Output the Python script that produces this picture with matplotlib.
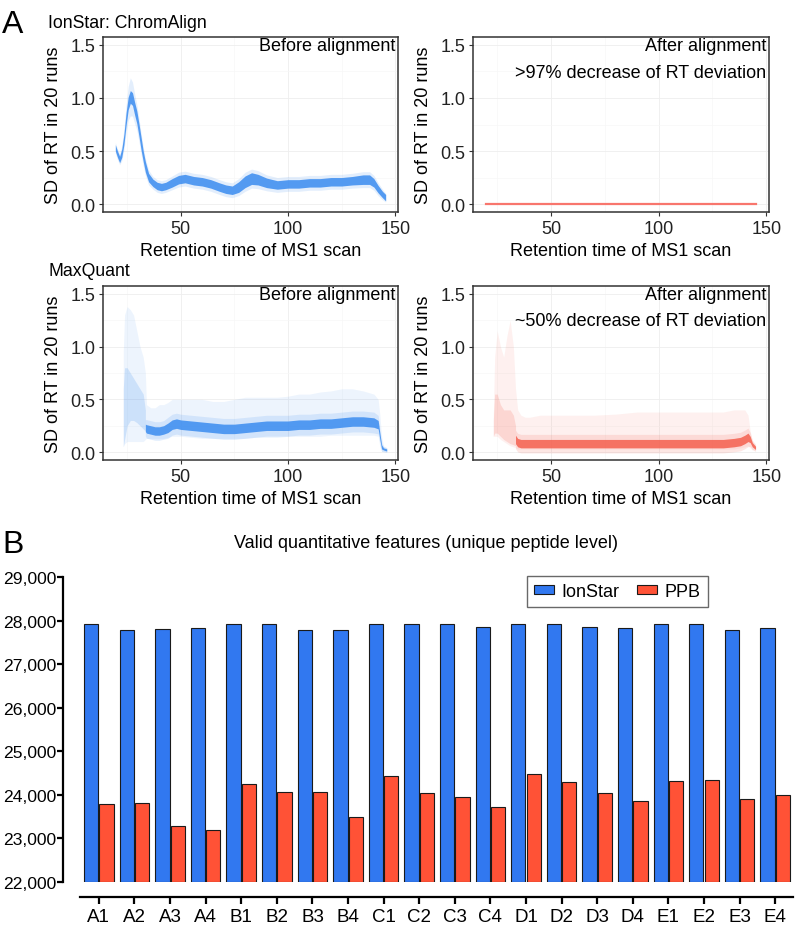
import numpy as np
import matplotlib
matplotlib.use('Agg')
import matplotlib.pyplot as plt
from matplotlib.ticker import MultipleLocator, FuncFormatter

plt.rcParams['font.family'] = ['Liberation Sans', 'DejaVu Sans']
nan = np.nan

# ── Panel A: IonStar / ChromAlign, before alignment (dense band + spread) ──
is_rt = [19.5, 20.5, 21.5, 22.5, 23.5, 24.5, 25.5, 26.5, 27.5, 28.5,
         29.5, 30.5, 31.5, 32.5, 33.5, 35, 37, 39, 41, 43,
         46, 49, 52, 56, 60, 64, 68, 71, 74, 77,
         80, 83, 86, 90, 95, 100, 105, 110, 115, 120,
         125, 130, 135, 138, 140, 142, 144, 145.5]
is_centre = [0.53, 0.47, 0.42, 0.48, 0.61, 0.80, 0.95, 1.01, 0.99, 0.90,
             0.82, 0.70, 0.57, 0.45, 0.35, 0.25, 0.20, 0.17, 0.16, 0.17,
             0.20, 0.23, 0.24, 0.22, 0.21, 0.19, 0.16, 0.14, 0.13, 0.16,
             0.21, 0.24, 0.23, 0.20, 0.18, 0.19, 0.19, 0.20, 0.20, 0.21,
             0.21, 0.22, 0.23, 0.23, 0.20, 0.14, 0.09, 0.06]
is_half = [0.03, 0.03, 0.03, 0.04, 0.05, 0.06, 0.06, 0.06, 0.06, 0.06,
           0.06, 0.06, 0.06, 0.05, 0.05, 0.04, 0.035, 0.035, 0.035, 0.035,
           0.04, 0.04, 0.04, 0.04, 0.04, 0.04, 0.04, 0.04, 0.04, 0.05,
           0.055, 0.055, 0.05, 0.045, 0.04, 0.04, 0.04, 0.04, 0.04, 0.04,
           0.04, 0.04, 0.045, 0.045, 0.04, 0.035, 0.03, 0.03]
is_spread = [0.05, 0.05, 0.05, 0.07, 0.10, 0.13, 0.16, 0.18, 0.16, 0.14,
             0.12, 0.11, 0.10, 0.09, 0.08, 0.07, 0.06, 0.06, 0.06, 0.06,
             0.065, 0.07, 0.07, 0.07, 0.07, 0.07, 0.07, 0.07, 0.07, 0.08,
             0.09, 0.09, 0.085, 0.075, 0.07, 0.07, 0.07, 0.07, 0.07, 0.07,
             0.07, 0.07, 0.075, 0.075, 0.07, 0.06, 0.05, 0.04]

# after alignment: all SDs ~0
isa_rt = [20, 145]
isa_sd = [0.0, 0.0]

# ── Panel A: MaxQuant, before alignment ──
mq_rt = [23.2, 23.8, 25, 26.5, 28, 29.5, 31, 32.5, 33.5, 34,
         36, 38, 40, 42, 44, 46, 48, 50, 55, 60,
         65, 70, 75, 80, 85, 90, 95, 100, 105, 110,
         115, 120, 125, 130, 135, 140, 142, 142.8, 143.6, 144.5, 146]
mq_centre = [nan, nan, nan, nan, nan, nan, nan, nan, 0.23, 0.22,
             0.21, 0.20, 0.20, 0.21, 0.23, 0.26, 0.27, 0.26, 0.25, 0.24,
             0.23, 0.22, 0.22, 0.23, 0.24, 0.25, 0.25, 0.25, 0.26, 0.26,
             0.27, 0.27, 0.28, 0.29, 0.29, 0.28, 0.26, 0.15, 0.05, 0.03, 0.02]
mq_half = [nan, nan, nan, nan, nan, nan, nan, nan, 0.035, 0.04,
           0.04, 0.04, 0.04, 0.04, 0.045, 0.045, 0.045, 0.045, 0.045, 0.045,
           0.045, 0.045, 0.045, 0.045, 0.045, 0.045, 0.045, 0.045, 0.045, 0.045,
           0.045, 0.045, 0.045, 0.045, 0.045, 0.045, 0.04, 0.03, 0.02, 0.01, 0.01]
mq_lo = [0.05, 0.08, 0.10, 0.10, 0.10, 0.10, 0.10, 0.10, 0.12, 0.13,
         0.13, 0.13, 0.13, 0.13, 0.14, 0.15, 0.15, 0.15, 0.14, 0.13,
         0.13, 0.13, 0.13, 0.13, 0.14, 0.14, 0.14, 0.15, 0.15, 0.15,
         0.15, 0.16, 0.16, 0.16, 0.16, 0.16, 0.15, 0.05, 0.01, 0.0, 0.0]
mq_hi = [0.95, 1.30, 1.38, 1.35, 1.30, 1.15, 1.00, 0.90, 0.75, 0.45,
         0.42, 0.42, 0.45, 0.45, 0.47, 0.50, 0.50, 0.50, 0.50, 0.50,
         0.48, 0.48, 0.50, 0.52, 0.52, 0.52, 0.52, 0.53, 0.55, 0.55,
         0.57, 0.58, 0.60, 0.60, 0.58, 0.55, 0.50, 0.35, 0.15, 0.06, 0.04]
# denser lower part of the early-eluting spike
mq_core_lo = [0.05, 0.12, 0.25, 0.30, 0.30, 0.28, 0.25, 0.22, 0.20, nan,
              nan, nan, nan, nan, nan, nan, nan, nan, nan, nan,
              nan, nan, nan, nan, nan, nan, nan, nan, nan, nan,
              nan, nan, nan, nan, nan, nan, nan, nan, nan, nan, nan]
mq_core_hi = [0.60, 0.80, 0.80, 0.75, 0.70, 0.65, 0.60, 0.55, 0.40, nan,
              nan, nan, nan, nan, nan, nan, nan, nan, nan, nan,
              nan, nan, nan, nan, nan, nan, nan, nan, nan, nan,
              nan, nan, nan, nan, nan, nan, nan, nan, nan, nan, nan]

# ── Panel A: MaxQuant, after alignment ──
mqa_rt = [23.2, 23.8, 25, 26.5, 28, 29.5, 31, 32.5, 33.5, 34.5,
          36, 38, 40, 45, 50, 55, 60, 70, 80, 90,
          100, 110, 120, 130, 135, 138, 140, 141.5, 142.5, 143.5, 145]
mqa_centre = [nan, nan, nan, nan, nan, nan, nan, nan, 0.12, 0.09,
              0.08, 0.08, 0.08, 0.08, 0.08, 0.08, 0.08, 0.08, 0.08, 0.08,
              0.08, 0.08, 0.08, 0.08, 0.09, 0.10, 0.12, 0.14, 0.12, 0.07, 0.04]
mqa_half = [nan, nan, nan, nan, nan, nan, nan, nan, 0.04, 0.04,
            0.04, 0.04, 0.04, 0.04, 0.04, 0.04, 0.04, 0.04, 0.04, 0.04,
            0.04, 0.04, 0.04, 0.04, 0.04, 0.04, 0.04, 0.04, 0.03, 0.02, 0.015]
mqa_lo = [0.15, 0.15, 0.15, 0.12, 0.10, 0.08, 0.06, 0.05, 0.04, 0.03,
          0.03, 0.03, 0.03, 0.03, 0.03, 0.03, 0.03, 0.03, 0.03, 0.03,
          0.03, 0.03, 0.03, 0.03, 0.03, 0.04, 0.05, 0.06, 0.04, 0.02, 0.02]
mqa_hi = [0.35, 0.90, 1.15, 1.00, 0.90, 1.10, 1.25, 1.00, 0.60, 0.40,
          0.35, 0.33, 0.33, 0.35, 0.35, 0.35, 0.35, 0.35, 0.36, 0.38,
          0.38, 0.38, 0.38, 0.38, 0.40, 0.40, 0.40, 0.35, 0.20, 0.10, 0.06]
mqa_core_lo = [0.15, 0.18, 0.18, 0.15, 0.12, 0.10, 0.08, 0.07, 0.06, nan,
               nan, nan, nan, nan, nan, nan, nan, nan, nan, nan,
               nan, nan, nan, nan, nan, nan, nan, nan, nan, nan, nan]
mqa_core_hi = [0.30, 0.55, 0.55, 0.45, 0.40, 0.40, 0.40, 0.35, 0.25, nan,
               nan, nan, nan, nan, nan, nan, nan, nan, nan, nan,
               nan, nan, nan, nan, nan, nan, nan, nan, nan, nan, nan]

# ── Panel B: valid quantitative features ──
samples = ['A1', 'A2', 'A3', 'A4', 'B1', 'B2', 'B3', 'B4', 'C1', 'C2',
           'C3', 'C4', 'D1', 'D2', 'D3', 'D4', 'E1', 'E2', 'E3', 'E4']
ionstar = [27930, 27775, 27810, 27835, 27930, 27930, 27775, 27775, 27930, 27930,
           27930, 27855, 27930, 27930, 27855, 27835, 27930, 27930, 27795, 27835]
ppb = [23790, 23805, 23280, 23200, 24255, 24055, 24055, 23490, 24425, 24040,
       23940, 23725, 24475, 24285, 24035, 23870, 24320, 24340, 23895, 23995]

BLUE_PT = '#3a8cf0'
RED_PT = '#f4604f'
RED_LINE = '#f8766d'
BLUE_BAR = '#3178f0'
RED_BAR = '#ff5236'
FS = 13

W, H = 796, 929
fig = plt.figure(figsize=(W / 100, H / 100), dpi=100)


def px_axes(x0, y0, x1, y1):
    return fig.add_axes([x0 / W, 1 - y1 / H, (x1 - x0) / W, (y1 - y0) / H])


def style_rt(ax):
    ax.set_xlim(13.75, 151.25)
    ax.set_ylim(-0.075, 1.575)
    ax.xaxis.set_major_locator(MultipleLocator(50))
    ax.xaxis.set_minor_locator(MultipleLocator(25))
    ax.yaxis.set_major_locator(MultipleLocator(0.5))
    ax.yaxis.set_minor_locator(MultipleLocator(0.25))
    ax.yaxis.set_major_formatter(FuncFormatter(lambda v, p: f'{v:.1f}'))
    ax.grid(True, which='major', color='#eeeeee', lw=0.6)
    ax.grid(True, which='minor', color='#f7f7f7', lw=0.5)
    ax.set_axisbelow(True)
    for s in ax.spines.values():
        s.set_color('#333333'); s.set_linewidth(1.1)
    ax.tick_params(which='major', length=3, width=0.8, color='#333333',
                   labelsize=FS, labelcolor='#222222', pad=2.5)
    ax.tick_params(which='minor', length=0)
    ax.set_xlabel('Retention time of MS1 scan', fontsize=FS, labelpad=4)
    ax.set_ylabel('SD of RT in 20 runs', fontsize=FS)
    ax.yaxis.set_label_coords(-0.14, 0.5)


def cloud(ax, rt, lo, hi, centre, half, color, core_lo=None, core_hi=None):
    rt = np.array(rt); c = np.array(centre); h = np.array(half)
    ax.fill_between(rt, lo, hi, color=color, alpha=0.09, lw=0)
    if core_lo is not None:
        ax.fill_between(rt, core_lo, core_hi, color=color, alpha=0.18, lw=0)
    ax.fill_between(rt, c - 2.2 * h, c + 2.2 * h, color=color, alpha=0.15, lw=0)
    ax.fill_between(rt, c - h, c + h, color=color, alpha=0.85, lw=0)


# top-left
ax1 = px_axes(103, 38, 398, 213)
style_rt(ax1)
c = np.array(is_centre)
ax1.fill_between(is_rt, c - np.array(is_spread), c + np.array(is_spread),
                 color=BLUE_PT, alpha=0.14, lw=0)
ax1.fill_between(is_rt, c - np.array(is_half), c + np.array(is_half),
                 color=BLUE_PT, alpha=0.85, lw=0)
ax1.text(0.99, 0.95, 'Before alignment', transform=ax1.transAxes,
         ha='right', va='center', fontsize=FS)

# top-right
ax2 = px_axes(473, 38, 769, 213)
style_rt(ax2)
ax2.plot(isa_rt, isa_sd, color=RED_LINE, lw=1.6)
ax2.text(0.99, 0.95, 'After alignment', transform=ax2.transAxes,
         ha='right', va='center', fontsize=FS)
ax2.text(0.99, 0.80, '>97% decrease of RT deviation', transform=ax2.transAxes,
         ha='right', va='center', fontsize=FS)

# bottom-left
ax3 = px_axes(103, 287, 398, 461)
style_rt(ax3)
cloud(ax3, mq_rt, mq_lo, mq_hi, mq_centre, mq_half, BLUE_PT, mq_core_lo, mq_core_hi)
ax3.text(0.99, 0.95, 'Before alignment', transform=ax3.transAxes,
         ha='right', va='center', fontsize=FS)

# bottom-right
ax4 = px_axes(473, 287, 769, 461)
style_rt(ax4)
cloud(ax4, mqa_rt, mqa_lo, mqa_hi, mqa_centre, mqa_half, RED_PT, mqa_core_lo, mqa_core_hi)
ax4.text(0.99, 0.95, 'After alignment', transform=ax4.transAxes,
         ha='right', va='center', fontsize=FS)
ax4.text(0.99, 0.80, '~50% decrease of RT deviation', transform=ax4.transAxes,
         ha='right', va='center', fontsize=FS)

fig.text(2 / W, 1 - 25 / H, 'A', fontsize=23, va='center', ha='left')
fig.text(48 / W, 1 - 23 / H, 'IonStar: ChromAlign', fontsize=12.7, va='center')
fig.text(48 / W, 1 - 272 / H, 'MaxQuant', fontsize=12.7, va='center')

# ── Panel B ──
BASE = 22000
axb = px_axes(80, 578, 793, 883)
x = np.arange(len(samples))
axb.bar(x - 0.215, np.array(ionstar) - BASE, bottom=BASE, width=0.4,
        color=BLUE_BAR, edgecolor='#1a1a1a', lw=0.8, label='IonStar')
axb.bar(x + 0.215, np.array(ppb) - BASE, bottom=BASE, width=0.4,
        color=RED_BAR, edgecolor='#1a1a1a', lw=0.8, label='PPB')
axb.set_xlim(-0.53, 19.5)
axb.set_ylim(22000, 29000)
axb.set_xticks(x)
axb.set_xticklabels(samples)
axb.yaxis.set_major_locator(MultipleLocator(1000))
axb.yaxis.set_major_formatter(FuncFormatter(lambda v, p: f'{int(v):,}'))
for s in ['top', 'right']:
    axb.spines[s].set_visible(False)
axb.spines['left'].set_position(('outward', 12.2))
axb.spines['bottom'].set_position(('outward', 10.8))
for s in ['left', 'bottom']:
    axb.spines[s].set_linewidth(1.6)
axb.tick_params(axis='x', length=5, width=1.6, labelsize=13.5, pad=3)
axb.tick_params(axis='y', length=4, width=1.6, labelsize=12.6, pad=1)
axb.legend(loc='upper left', bbox_to_anchor=(527 / W, 1 - 577 / H),
           bbox_transform=fig.transFigure, ncol=2, frameon=True, fancybox=False,
           edgecolor='#444444', fontsize=13, handlelength=1.1, handleheight=0.4,
           handletextpad=0.4, columnspacing=1.0, borderpad=0.4, borderaxespad=0)
fig.text(426 / W, 1 - 543 / H, 'Valid quantitative features (unique peptide level)',
         fontsize=13, ha='center', va='center')
fig.text(2 / W, 1 - 545 / H, 'B', fontsize=23, va='center', ha='left')

fig.savefig('out.png', dpi=100)
